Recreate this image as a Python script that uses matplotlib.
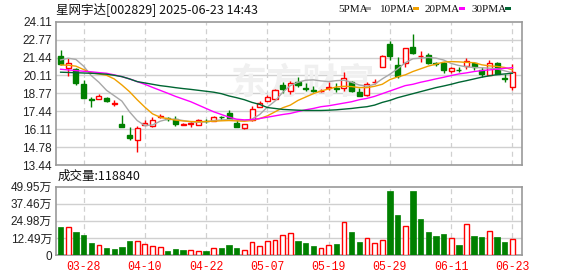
import matplotlib
matplotlib.use("Agg")
import matplotlib.pyplot as plt
import numpy as np

dates = ["03-25","03-26","03-27","03-28","03-31",
         "04-01","04-02","04-03","04-07","04-08","04-09","04-10","04-11","04-14","04-15",
         "04-16","04-17","04-18","04-21","04-22","04-23","04-24","04-25","04-28","04-29","04-30",
         "05-06","05-07","05-08","05-09","05-12","05-13","05-14","05-15","05-16","05-19",
         "05-20","05-21","05-22","05-23","05-26","05-27","05-28","05-29","05-30",
         "06-03","06-04","06-05","06-06","06-09","06-10","06-11","06-12","06-13",
         "06-16","06-17","06-18","06-19","06-20","06-23"]

opens = [21.56, 20.65, 20.57, 19.48, 18.32, 18.39, 18.46, 17.95, 16.50, 15.70,
         15.27, 16.41, 16.36, 17.00, 16.95, 16.88, 16.45, 16.50, 16.43, 16.75,
         16.73, 17.02, 17.30, 16.55, 16.19, 16.81, 17.75, 18.24, 18.34, 19.40,
         18.96, 19.65, 19.15, 19.00, 18.92, 19.20, 19.15, 19.15, 19.65, 18.84,
         18.66, 19.60, 20.72, 22.45, 20.90, 21.06, 22.25, 21.54, 21.63, 21.02,
         21.00, 20.47, 20.55, 20.82, 21.00, 20.52, 20.15, 21.06, 19.92, 19.28]
highs = [22.01, 21.38, 20.65, 19.78, 18.53, 18.75, 18.54, 18.30, 17.18, 16.26,
         16.31, 16.80, 17.05, 17.25, 17.05, 17.10, 16.60, 16.68, 16.85, 16.88,
         17.10, 17.10, 17.50, 16.80, 16.50, 17.85, 18.17, 18.66, 19.10, 19.65,
         19.70, 19.98, 19.53, 19.33, 19.10, 19.65, 19.53, 20.40, 19.70, 19.15,
         19.65, 19.83, 21.60, 22.70, 21.46, 22.13, 23.17, 21.93, 21.75, 21.14,
         21.14, 20.72, 20.70, 21.38, 21.09, 20.77, 21.26, 21.14, 20.20, 20.97]
lows = [20.85, 20.10, 19.40, 18.45, 17.78, 18.37, 18.10, 17.85, 16.24, 15.27,
        14.38, 16.40, 16.26, 16.95, 16.70, 16.36, 16.40, 16.26, 16.40, 16.55,
        16.68, 16.80, 16.80, 16.25, 16.10, 16.75, 17.74, 18.17, 18.30, 18.80,
        18.74, 19.28, 18.98, 18.84, 18.85, 19.03, 18.90, 18.98, 18.90, 18.55,
        18.60, 19.48, 20.70, 21.26, 19.95, 20.77, 21.70, 21.10, 20.96, 20.82,
        20.30, 20.27, 20.35, 20.57, 20.52, 20.00, 20.15, 20.20, 19.65, 19.03]
closes = [20.94, 21.00, 19.58, 18.46, 18.28, 18.55, 18.22, 18.08, 16.24, 15.45,
          16.19, 16.60, 16.80, 17.06, 16.90, 16.51, 16.48, 16.55, 16.80, 16.72,
          17.00, 16.98, 16.85, 16.26, 16.48, 17.60, 18.05, 18.49, 19.05, 19.08,
          19.58, 19.40, 19.10, 18.93, 18.96, 19.25, 19.12, 19.90, 18.96, 18.59,
          19.48, 19.65, 21.58, 21.56, 20.10, 22.13, 21.76, 21.56, 21.06, 20.98,
          20.52, 20.65, 20.52, 21.21, 20.72, 20.22, 21.00, 20.22, 19.85, 20.35]

ma5 = [21.26, 21.39, 21.30, 20.80, 20.10, 19.60, 19.00, 18.60, 18.20, 17.40,
       16.75, 16.38, 16.42, 16.70, 16.85, 16.85, 16.75, 16.65, 16.62, 16.65,
       16.75, 16.80, 16.82, 16.78, 16.75, 16.86, 17.20, 17.75, 18.20, 18.85,
       19.35, 19.60, 19.75, 19.78, 19.70, 19.65, 19.72, 19.75, 19.60, 19.40,
       19.30, 19.45, 19.85, 20.20, 20.60, 21.05, 21.35, 21.40, 21.45, 21.40,
       21.26, 21.00, 20.85, 20.75, 20.70, 20.68, 20.65, 20.60, 20.45, 20.30]
ma10 = [20.89, 20.87, 20.80, 20.55, 20.30, 20.22, 20.12, 19.85, 19.40, 18.90,
        18.30, 17.75, 17.25, 17.00, 16.88, 16.78, 16.72, 16.68, 16.66, 16.68,
        16.70, 16.73, 16.75, 16.72, 16.70, 16.75, 16.90, 17.10, 17.40, 17.70,
        17.90, 18.25, 18.50, 18.75, 18.95, 19.10, 19.25, 19.30, 19.28, 19.20,
        19.20, 19.30, 19.45, 19.80, 20.00, 20.15, 20.40, 20.60, 20.80, 20.95,
        21.10, 21.14, 21.12, 21.08, 21.06, 20.90, 20.82, 20.78, 20.70, 20.52]
ma20 = [20.57, 20.52, 20.47, 20.42, 20.38, 20.32, 20.27, 20.15, 20.02, 19.85,
        19.65, 19.45, 19.22, 19.00, 18.78, 18.55, 18.35, 18.15, 17.90, 17.65,
        17.40, 17.20, 17.00, 16.85, 16.80, 16.82, 16.90, 17.00, 17.10, 17.20,
        17.28, 17.42, 17.55, 17.65, 17.78, 17.85, 17.95, 18.05, 18.15, 18.30,
        18.40, 18.55, 18.75, 18.95, 19.15, 19.35, 19.45, 19.60, 19.72, 19.85,
        19.97, 20.10, 20.22, 20.30, 20.40, 20.47, 20.52, 20.58, 20.64, 20.69]
ma30 = [20.35, 20.33, 20.31, 20.29, 20.27, 20.24, 20.20, 20.12, 20.02, 19.85,
        19.65, 19.55, 19.45, 19.35, 19.28, 19.20, 19.13, 19.07, 19.00, 18.93,
        18.86, 18.75, 18.58, 18.45, 18.30, 18.10, 17.95, 17.72, 17.65, 17.58,
        17.55, 17.52, 17.50, 17.50, 17.50, 17.52, 17.55, 17.60, 17.65, 17.72,
        17.78, 17.90, 18.10, 18.25, 18.45, 18.60, 18.75, 18.90, 19.05, 19.20,
        19.32, 19.45, 19.60, 19.72, 19.85, 19.98, 20.08, 20.17, 20.22, 20.27]

volumes = [20.5, 20.2, 16.8, 14.4, 8.8, 7.1, 5.1, 4.4, 5.8, 10.2,
           10.2, 7.8, 6.3, 5.6, 2.9, 4.1, 3.7, 3.4, 2.7, 2.9,
           4.9, 5.1, 7.3, 5.1, 3.7, 9.3, 6.3, 10.2, 11.0, 14.4,
           15.8, 10.2, 8.8, 6.6, 4.9, 7.1, 8.0, 23.9, 16.8, 9.5,
           12.2, 8.5, 10.7, 46.8, 29.2, 21.0, 46.8, 26.3, 16.8, 13.9,
           15.4, 12.2, 7.3, 22.4, 13.9, 13.2, 17.3, 13.2, 9.5, 11.88]

price_ticks = [13.44, 14.78, 16.11, 17.44, 18.77, 20.11, 21.44, 22.77, 24.11]
vol_ticks = [0, 12.49, 24.98, 37.46, 49.95]
vol_tick_labels = ["0", "12.49万", "24.98万", "37.46万", "49.95万"]
date_tick_idx = [3, 11, 19, 27, 35, 43, 51, 59]
title_text = "星网宇达[002829] 2025-06-23 14:43"
vol_label = "成交量:118840"
ma_names = ["5PMA", "10PMA", "20PMA", "30PMA"]
ma_colors = ["#a8a8a8", "#f0a000", "#ff00ff", "#006633"]

RED = "#ff0000"
GREEN = "#008000"
FRAME = "#999999"
GRID = "#d0d0d0"
CJK = ["Noto Sans CJK SC", "DejaVu Sans"]
NUM = ["Liberation Sans", "Noto Sans CJK SC"]

W, H = 578, 276
fig = plt.figure(figsize=(W / 100, H / 100), dpi=100)
fig.patch.set_facecolor("white")

def axrect(l, t, r, b):
    return [l / W, 1 - b / H, (r - l) / W, (b - t) / H]

axp = fig.add_axes(axrect(56, 21.7, 522, 165))
axv = fig.add_axes(axrect(56, 186.7, 522, 255))

x = np.arange(len(dates))
o = np.array(opens); c = np.array(closes); hi = np.array(highs); lo = np.array(lows)

# candle colors: red if up, green if down; doji by previous close
prev = np.concatenate([[o[0]], c[:-1]])
up = np.where(c > o, True, np.where(c < o, False, c >= prev))
# volume color by close vs previous close
vup = np.concatenate([[c[0] >= o[0]], c[1:] >= c[:-1]])

for ax in (axp, axv):
    ax.set_xlim(-0.6, 60.25)
    for s in ax.spines.values():
        s.set_color(FRAME)
        s.set_linewidth(1.2)
    for i in date_tick_idx:
        ax.axvline(i, color=GRID, lw=0.9, ls=(0, (4, 3)), zorder=0)
    ax.set_facecolor("white")

# price panel
axp.set_ylim(price_ticks[0], price_ticks[-1])
axp.set_yticks(price_ticks)
axp.set_yticklabels([f"{v:.2f}" for v in price_ticks], family=NUM, fontsize=8.5, color="#222222")
for v in price_ticks[1:-1]:
    axp.axhline(v, color=GRID, lw=1.0, zorder=0)
axp.set_xticks([])
axp.tick_params(axis="y", length=0, pad=3)

axp.text(0.53, 0.57, "东方财富", transform=axp.transAxes, ha="center", va="center",
         fontsize=26, color="#f0f0f0", family=CJK, fontweight="bold", zorder=0.5)

bw = 0.66
for i in x:
    col = RED if up[i] else GREEN
    axp.vlines(i, lo[i], hi[i], color=col, lw=1.0, zorder=3)
    bot = min(o[i], c[i]); ht = max(abs(c[i] - o[i]), 0.02)
    if up[i]:
        axp.bar(i, ht, bottom=bot, width=bw, facecolor="white", edgecolor=col, lw=1.0, zorder=4)
    else:
        axp.bar(i, ht, bottom=bot, width=bw, facecolor=col, edgecolor=col, lw=1.0, zorder=4)

for series, colr in zip([ma5, ma10, ma20, ma30], ma_colors):
    axp.plot(x, series, color=colr, lw=1.0, zorder=5)

# volume panel
axv.set_ylim(0, vol_ticks[-1])
axv.set_yticks(vol_ticks)
axv.set_yticklabels(vol_tick_labels, family=NUM, fontsize=8.5, color="#222222")
for v in vol_ticks[1:-1]:
    axv.axhline(v, color=GRID, lw=1.0, zorder=0)
axv.tick_params(axis="y", length=0, pad=3)
for i in x:
    if vup[i]:
        axv.bar(i, volumes[i], width=0.62, facecolor="white", edgecolor=RED, lw=1.0, zorder=3)
    else:
        axv.bar(i, volumes[i], width=0.7, facecolor=GREEN, edgecolor=GREEN, lw=0.5, zorder=3)
axv.set_xticks(date_tick_idx)
axv.set_xticklabels([dates[i] for i in date_tick_idx], family=["Liberation Mono"],
                    fontsize=8.3, color=RED)
axv.tick_params(axis="x", length=0, pad=4)

# texts
fig.text(56 / W, 1 - 9 / H, title_text, family=CJK, fontsize=9, va="center", ha="left", color="#111111")
fig.text(58 / W, 1 - 176.5 / H, vol_label, family=CJK, fontsize=9, va="center", ha="left", color="#111111")

# legend at top right (positions in pixels)
legend_text_x = [338, 380, 425, 472]
legend_box_x = [365, 413, 459, 505]
for name, colr, tx, bx in zip(ma_names, ma_colors, legend_text_x, legend_box_x):
    fig.text(tx / W, 1 - 9 / H, name, family=["Liberation Serif"], fontsize=8,
             va="center", ha="left", color="#111111")
    fig.patches.append(plt.Rectangle((bx / W, 1 - 10.3 / H), 6 / W, 3.3 / H,
                                     transform=fig.transFigure, facecolor=colr, edgecolor="none"))

fig.savefig("out.png", dpi=100, facecolor="white")
